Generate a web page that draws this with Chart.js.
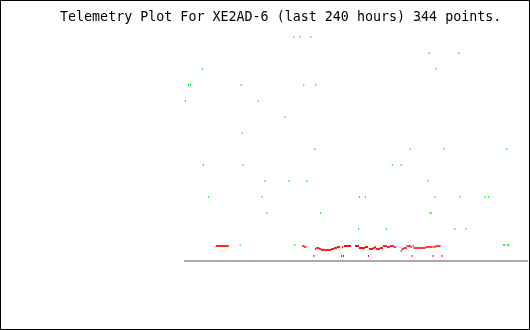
<!DOCTYPE html>
<html>
<head>
<meta charset="utf-8">
<title>Telemetry Plot</title>
<script src="https://cdn.jsdelivr.net/npm/chart.js@4/dist/chart.umd.min.js"></script>
<style>
    html, body { margin: 0; padding: 0; background: #fff; }
    #frame {
        width: 530px;
        height: 330px;
        box-sizing: border-box;
        border: 1px solid #000;
    }
    #plot { display: block; }
</style>
</head>
<body>
<div id="frame"><canvas id="plot" width="528" height="328"></canvas></div>
<script>
// --- DATA ---
// x = sample slot across the last 240 hours (344 slots), y = raw telemetry value
const TITLE = 'Telemetry Plot For XE2AD-6 (last 240 hours) 344 points.';
const SLOTS = 344;
const Y_MAX = 246;

const greenSlots = [
    0, 3, 5, 17, 18, 23, 55, 56, 57, 58, 73, 77, 80, 82, 100, 104, 109, 110,
    115, 119, 122, 126, 130, 131, 136, 174, 175, 181, 202, 208, 217, 226, 236,
    244, 245, 246, 247, 251, 252, 260, 271, 275, 276, 282, 301, 305, 320, 321,
    323, 324, 325
];
const greenValues = [
    160, 176, 176, 192, 96, 64, 16, 176, 128, 96, 160, 64, 80, 48, 144, 80, 224, 16,
    224, 176, 80, 224, 112, 176, 48, 32, 64, 64, 32, 96, 96, 112, 240,
    80, 208, 48, 48, 64, 192, 112, 32, 208, 64, 32, 64, 64, 16, 16,
    112, 16, 16
];

// first red run starts at slot 31, the second at slot 118 (null = no sample)
const redEarlyFrom = 31;
const redEarly = [15, 15, 15, 15, 15, 15, 15, 15, 15, 15, 15, 15, 15];
const redFrom = 118;
const redValues = [
    15, 15, 14, 14, null, null, null, null, null, null, null, 5, null,
    12, 13, 13, 13, 12, 12,
    11, 11, 11, 11, 11, 11, 11, 11, 11, 11,
    12, 12, 12, 13, 13, 13, 14, 14, 14,
    null, 5, 14, 5,
    15, 15, 15, 15, 15, 15, 15,
    null, null, null, null,
    15, 15, 15, 15,
    13, 13, 13, 13, 13, 13,
    14, 14, 14, 5,
    12, 12, 12, 12, 13, 13, 14,
    12, 12, 12, 12, 13, 13, 13,
    15, 15, 15, 15, 14, 14, 14,
    15, 15, 15, 15, 14, 14,
    null, null, null, null, null,
    10, 12, 12, 13, 13, 13,
    15, 15, 15, 15, 14, 5, 15,
    13, 13, 13, 13, 13, 13, 13, 13, 13, 13, 13, 13,
    14, 14, 14, 14, 14, 14, 14, 5, 14, 14,
    15, 15, 15, 15, 15, null, 5
];

// --- BUILD ---
const toPoints = (from, values) => values.map((v, i) => ({ x: from + i, y: v }));
const greenPoints = greenSlots.map((s, i) => ({ x: s, y: greenValues[i] }));
const redPoints = toPoints(redEarlyFrom, redEarly).concat(toPoints(redFrom, redValues));

// 1px wide, 2px tall tick per sample
const tick = (color) => ({
    showLine: false,
    pointStyle: 'line',
    pointRotation: 90,
    pointRadius: 1,
    pointHoverRadius: 1,
    pointBorderWidth: 1,
    pointBorderColor: color,
    pointBackgroundColor: color,
    clip: false
});

new Chart(document.getElementById('plot'), {
    type: 'scatter',
    data: {
        datasets: [
            Object.assign({ label: 'ch1', data: greenPoints }, tick('#00ff00')),
            Object.assign({ label: 'ch2', data: redPoints }, tick('#ff0000'))
        ]
    },
    options: {
        responsive: false,
        animation: false,
        events: [],
        layout: { padding: { left: 59, right: 0, top: 0, bottom: 68 } },
        plugins: {
            legend: { display: false },
            tooltip: { enabled: false },
            title: {
                display: true,
                text: TITLE,
                align: 'start',
                color: '#000',
                font: { family: 'DejaVu Sans Mono', size: 13.33, weight: 'normal', lineHeight: '16px' },
                padding: { top: 9, bottom: -11 }
            }
        },
        scales: {
            x: {
                type: 'linear',
                min: -0.5,
                max: SLOTS - 0.5,
                ticks: { display: false },
                grid: { display: false, drawTicks: false },
                border: { display: true, color: '#aaaaaa', width: 2 },
                afterFit: (s) => { s.height = 0; }
            },
            y: {
                type: 'linear',
                min: 0,
                max: Y_MAX,
                ticks: { display: false },
                grid: { display: false, drawTicks: false },
                border: { display: false },
                afterFit: (s) => { s.width = 125; }
            }
        }
    }
});
</script>
</body>
</html>
